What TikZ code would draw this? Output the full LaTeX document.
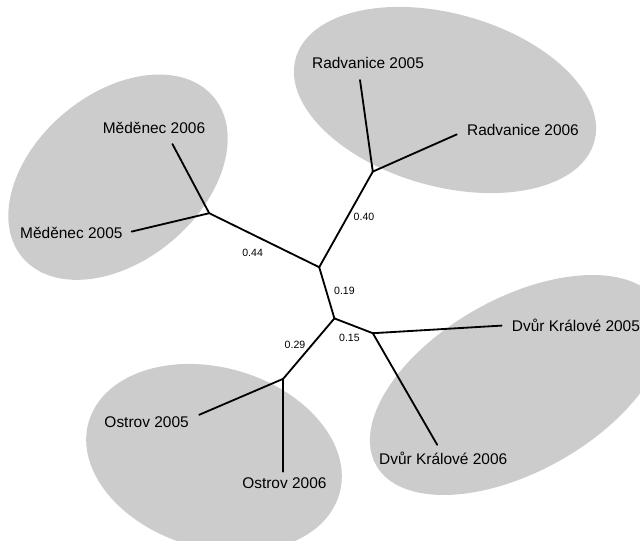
\documentclass[tikz,border=0pt]{standalone}
\usepackage{fontspec}
\setmainfont{Liberation Sans}
\usepackage{tikz}

\tikzset{
    cluster/.style={fill=gray!40},
    branch/.style={line width=1.3pt, line cap=round},
    leaf/.style={font=\fontsize{11}{13}\selectfont, inner sep=0pt},
    blen/.style={font=\fontsize{7.5}{9}\selectfont, inner sep=0pt}
}

\begin{document}
\begin{tikzpicture}
    
    \useasboundingbox (0,0) rectangle (16,13.5);
    
    % groups
    \fill[cluster, shift={(2.95,9.07)}, rotate=40] (0,0) ellipse (3.12 and 2.09);
    \fill[cluster, shift={(11.125,11.0)}, rotate=-15.6] (0,0) ellipse (3.875 and 2.16);
    \fill[cluster, shift={(5.35,2.05)}, rotate=-16] (0,0) ellipse (3.26 and 2.26);
    \fill[cluster, shift={(12.95,3.875)}, rotate=29.5] (0,0) ellipse (4.075 and 2.16);
    
    % inner nodes of the tree
    \coordinate (A) at (5.23,8.17);
    \coordinate (B) at (7.98,6.82);
    \coordinate (C) at (9.32,9.21);
    \coordinate (D) at (8.36,5.54);
    \coordinate (E) at (9.32,5.17);
    \coordinate (F) at (7.08,4.03);
    
    % ends of the leaves
    \coordinate (m6) at (4.31,9.90);
    \coordinate (m5) at (3.29,7.71);
    \coordinate (r5) at (9.00,11.50);
    \coordinate (r6) at (11.42,10.14);
    \coordinate (d5) at (12.54,5.36);
    \coordinate (d6) at (10.93,2.38);
    \coordinate (o5) at (4.98,3.13);
    \coordinate (o6) at (7.08,1.71);
    
    \node[leaf, anchor=base] (m6lab) at (3.85,10.155) {Měděnec 2006};
    \node[leaf, anchor=base east] (m5lab) at (3.07,7.545) {Měděnec 2005};
    \node[leaf, anchor=base] (r5lab) at (9.20,11.78) {Radvanice 2005};
    \node[leaf, anchor=base west] (r6lab) at (11.67,10.11) {Radvanice 2006};
    \node[leaf, anchor=base west] (d5lab) at (12.79,5.22) {Dvůr Králové 2005};
    \node[leaf, anchor=base] (d6lab) at (11.08,1.89) {Dvůr Králové 2006};
    \node[leaf, anchor=base east] (o5lab) at (4.725,2.82) {Ostrov 2005};
    \node[leaf, anchor=base] (o6lab) at (7.11,1.29) {Ostrov 2006};
    
    \begin{scope}[branch]
    \draw (A) to node[blen, xshift=-0.29cm, yshift=-0.325cm] {0.44} (B);
    \draw (B) to node[blen, xshift=0.45cm, yshift=0.06cm] {0.40} (C);
    \draw (B) to node[blen, xshift=0.44cm, yshift=0.045cm] {0.19} (D);
    \draw (D) to node[blen, xshift=-0.105cm, yshift=-0.31cm] {0.15} (E);
    \draw (D) to node[blen, xshift=-0.345cm, yshift=0.09cm] {0.29} (F);
    \end{scope}
    
    \foreach \a/\b in {A/m6,A/m5,C/r5,C/r6,E/d5,E/d6,F/o5,F/o6} {
        \draw[branch] (\a) to (\b);
    }
    
\end{tikzpicture}
\end{document}
